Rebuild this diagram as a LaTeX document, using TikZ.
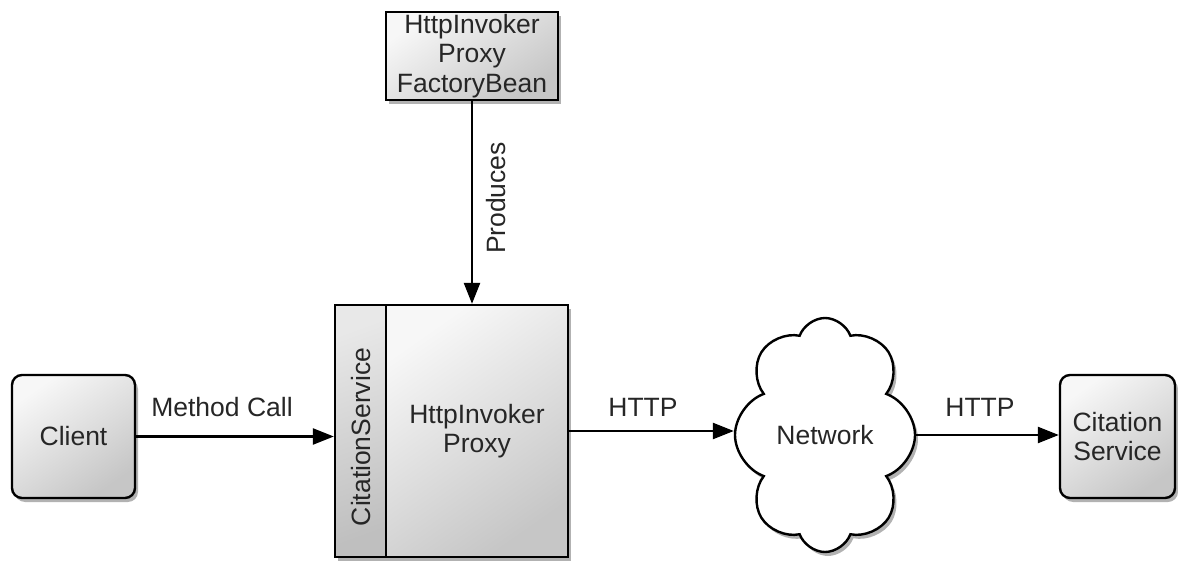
\documentclass[tikz,border=0pt]{standalone}
\usepackage{fontspec}
\setmainfont{Liberation Sans}
\usetikzlibrary{arrows.meta,shapes.symbols,shadows}

\begin{document}
\begin{tikzpicture}[x=1pt,y=-1pt,
  font=\fontsize{26.5}{29.5}\selectfont,
  every node/.style={text=black!85},
  softshadow/.style={drop shadow={shadow xshift=3pt,shadow yshift=-4pt,opacity=0.3,fill=black}},
  greybox/.style={draw=black,line width=2.4pt,top color=gray!6,bottom color=gray!45,
    shading angle=35,align=center,inner sep=0pt,softshadow},
  roundbox/.style={greybox,rounded corners=10pt},
  stripbox/.style={draw=black,line width=2.4pt,top color=gray!18,bottom color=gray!50,
    shading angle=20,inner sep=0pt,softshadow},
  label/.style={inner sep=0pt,align=center},
  arr/.style={line width=2.4pt,-{Triangle[length=21pt,width=16pt]}},
]
\useasboundingbox (0,0) rectangle (1178,561);

% factory bean at the top
\node[greybox,minimum width=172pt,minimum height=88pt] (fb) at (472,56)
  {HttpInvoker\\Proxy\\FactoryBean};

% proxy: interface strip plus implementation panel
\node[stripbox,minimum width=51pt,minimum height=252pt] (iface) at (360.5,431) {};
\node[greybox,minimum width=182pt,minimum height=252pt] (impl) at (477,431)
  {HttpInvoker\\Proxy};
\node[label,rotate=90] (ifacetext) at (361,437) {CitationService};

% client and remote service
\node[roundbox,minimum width=123pt,minimum height=123pt] (client) at (73.5,436.5) {Client};
\node[roundbox,minimum width=115pt,minimum height=123pt] (cs) at (1117.5,436.5)
  {Citation\\Service};

% network cloud
\node[cloud,cloud puffs=8,cloud puff arc=140,aspect=0.78,draw=black,line width=2.4pt,
  fill=white,minimum width=180pt,minimum height=234pt,inner sep=0pt,softshadow]
  (net) at (825,435) {Network};

% connectors
\draw[arr] (fb.south) -- (fb.south |- impl.north);
\node[label,rotate=90] (produces) at (496,198) {Produces};

\draw[arr] (client.east) -- (client.east -| iface.west);
\node[label] (mcall) at (222,407) {Method Call};

\draw[arr] (impl.east) -- (impl.east -| net.west);
\node[label] (http1) at (643,407) {HTTP};

\draw[arr] (net.east) -- (net.east -| cs.west);
\node[label] (http2) at (980,407) {HTTP};
\end{tikzpicture}
\end{document}
